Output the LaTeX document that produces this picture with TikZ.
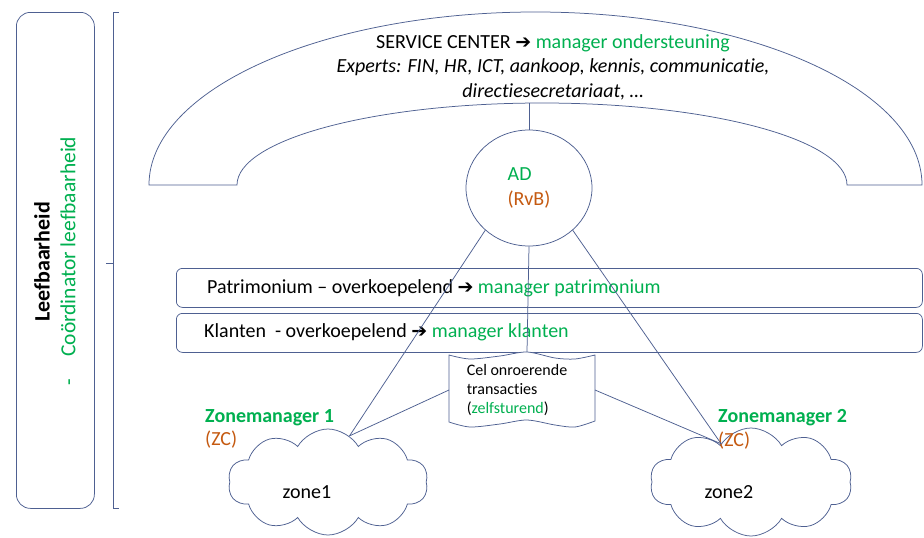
\documentclass[tikz,border=0pt]{standalone}
\usepackage{fontspec}
\setmainfont[Ligatures=NoCommon]{Carlito}
\newfontfamily\dejavu{DejaVu Sans}
\usetikzlibrary{shapes.symbols,shapes.geometric}
\definecolor{lc}{RGB}{78,96,145}
\definecolor{grn}{RGB}{0,176,80}
\definecolor{org}{RGB}{197,90,17}
\newcommand{\rarr}{{\dejavu\bfseries\fontsize{19}{19}\selectfont ➔}}
\tikzset{
  ln/.style={draw=lc, line width=0.75pt},
  txt/.style={inner sep=0pt, font=\fontsize{20}{24.4}\selectfont},
  small/.style={inner sep=0pt, font=\fontsize{16}{19}\selectfont},
}
\begin{document}
\begin{tikzpicture}[x=1pt,y=-1pt]
\useasboundingbox[fill=white] (0,0) rectangle (924,538);

% left box and bracket
\node[ln, rounded corners=14pt, minimum width=78pt, minimum height=496pt, anchor=north west] (lb) at (16,12) {};
\node[txt, rotate=90, font=\fontsize{22}{24}\selectfont\bfseries] (leef) at (42,262) {Leefbaarheid};
\node[txt, rotate=90, text=grn, font=\fontsize{21.5}{24}\selectfont] (coord) at (68,261) {-\hspace{22pt}Coördinator leefbaarheid};
\coordinate (bt) at (113,12);
\coordinate (bb) at (113,508);
\coordinate (bm) at (113,263);
\draw[ln] ([xshift=6pt]bt) -- (bt) -- (bb) -- ([xshift=6pt]bb);
\draw[ln] (bm) -- ([xshift=-7pt]bm);

% service center arch
\draw[ln] (149,185) arc[start angle=180,end angle=0,x radius=386.5pt,y radius=173pt]
  -- (847,185) arc[start angle=0,end angle=180,x radius=305pt,y radius=82pt] -- cycle;
\coordinate (archtop) at (529,103);
\node[txt, align=center] (sc) at (553,67) {SERVICE CENTER \rarr\ \textcolor{grn}{manager ondersteuning}\\
  \itshape Experts: FIN, HR, ICT, aankoop, kennis, communicatie,\\
  \itshape directiesecretariaat, \dots};

% AD
\node[ln, ellipse, minimum width=126pt, minimum height=116pt, inner sep=0pt, align=left, font=\fontsize{20}{25}\selectfont] (ad) at (529,188)
  {\textcolor{grn}{AD}\\\textcolor{org}{(RvB)}};

% bars
\node[ln, rounded corners=6pt, minimum width=746pt, minimum height=39pt, anchor=north west] (pat) at (176,268) {};
\node[ln, rounded corners=6pt, minimum width=746pt, minimum height=39pt, anchor=north west] (kla) at (176,313) {};
\node[txt, anchor=west] (patt) at (207,288) {Patrimonium -- overkoepelend \rarr\ \textcolor{grn}{manager patrimonium}};
\node[txt, anchor=west] (klat) at (204,332) {Klanten\ \ - overkoepelend \rarr\ \textcolor{grn}{manager klanten}};

% Cel box
\draw[ln, fill=white] plot[smooth] coordinates {(449,355) (470,359) (500,356) (527,352) (555,358) (575,359) (595,355)}
  -- plot[smooth] coordinates {(595,421) (575,427) (555,425) (527,420) (500,424) (470,427) (449,422)} -- cycle;
\node[small, align=left] (cel) at (517,390) {Cel onroerende\\transacties\\(\textcolor{grn}{zelfsturend})};
\coordinate (celT) at (527,352);
\coordinate (celL) at (449,390);
\coordinate (celR) at (595,390);

% clouds
\node[ln, cloud, cloud puffs=10, cloud puff arc=120, aspect=2, minimum width=200pt, minimum height=106pt, inner sep=0pt] (z1) at (328,482) {};
\node[ln, cloud, cloud puffs=10, cloud puff arc=120, aspect=2, minimum width=202pt, minimum height=108pt, inner sep=0pt] (z2) at (751,482) {};
\node[txt] (z1t) at (307,492) {zone1};
\node[txt] (z2t) at (729,492) {zone2};
\node[txt, anchor=west, text=grn, font=\fontsize{20}{24}\selectfont\bfseries] (zm1) at (205,418) {Zonemanager 1};
\node[txt, anchor=west, text=org] (zc1) at (205,440) {(ZC)};
\node[txt, anchor=west, text=grn, font=\fontsize{20}{24}\selectfont\bfseries] (zm2) at (718,418) {Zonemanager 2};
\node[txt, anchor=west, text=org] (zc2) at (718,441) {(ZC)};

% connectors
\draw[ln] (archtop) -- (ad.north);
\draw[ln] (ad.south) -- (celT);
\draw[ln] (ad.224) -- (z1.65);
\draw[ln] (ad.316) -- (z2.128);
\draw[ln] (celL) -- (z1.65);
\draw[ln] (celR) -- (z2.128);
\end{tikzpicture}
\end{document}
